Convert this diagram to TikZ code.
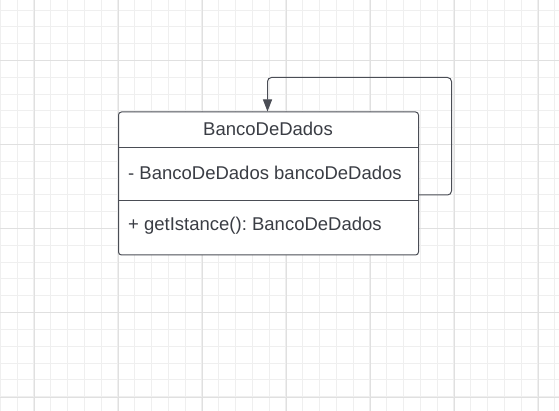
\documentclass[tikz,border=0pt]{standalone}
\usepackage{fontspec}
\setmainfont{Liberation Sans}
\usetikzlibrary{arrows.meta}
\definecolor{minorgrid}{HTML}{EFEFEF}
\definecolor{majorgrid}{HTML}{E0E0E0}
\definecolor{umlline}{HTML}{4A4D55}
\definecolor{umltext}{HTML}{3A3D44}
\frenchspacing
\tikzset{
  umlbox/.style={draw=umlline, line width=1pt, rounded corners=3pt, fill=white},
  umltxt/.style={text=umltext, font=\fontsize{18.5}{21}\selectfont, inner sep=0pt},
  sep/.style={draw=umlline, line width=1pt},
  loopline/.style={draw=umlline, line width=1pt, rounded corners=4pt, -{Triangle[length=12pt,width=9pt]}}
}
\begin{document}
\begin{tikzpicture}[x=1pt,y=-1pt]
\useasboundingbox (0,0) rectangle (559,411);
\fill[white] (0,0) rectangle (559,411);
% grid
\foreach \i in {0,...,33} {
  \pgfmathsetmacro\gx{0.2+16.8*\i}
  \draw[minorgrid, line width=1pt] (\gx,0) -- (\gx,411);
}
\foreach \i in {0,...,24} {
  \pgfmathsetmacro\gy{10.2+16.8*\i}
  \draw[minorgrid, line width=1pt] (0,\gy) -- (559,\gy);
}
\foreach \i in {0,...,6} {
  \pgfmathsetmacro\gx{34+84*\i}
  \draw[majorgrid, line width=1pt] (\gx,0) -- (\gx,411);
}
\foreach \i in {0,...,4} {
  \pgfmathsetmacro\gy{61+84*\i}
  \draw[majorgrid, line width=1pt] (0,\gy) -- (559,\gy);
}
% class box
\node[umlbox, minimum width=300pt, minimum height=143pt, anchor=north west, inner sep=0pt] (box) at (118,111.5) {};
\coordinate (s1l) at (118,147.5);
\coordinate (s1r) at (418,147.5);
\coordinate (s2l) at (118,200.5);
\coordinate (s2r) at (418,200.5);
\draw[sep] (s1l) -- (s1r);
\draw[sep] (s2l) -- (s2r);
\node[umltxt] (title) at (268,128.5) {BancoDeDados};
\node[umltxt, anchor=west] (attr) at (128,172.5) {- BancoDeDados bancoDeDados};
\node[umltxt, anchor=west] (meth) at (128,225.5) {+ getIstance(): BancoDeDados};
% self association
\coordinate (start) at (418,195);
\coordinate (c1) at (451.5,195);
\coordinate (c2) at (451.5,77.5);
\coordinate (c3) at (267.5,77.5);
\coordinate (tip) at (267.5,111.5);
\draw[loopline] (start) -- (c1) -- (c2) -- (c3) -- (tip);
\end{tikzpicture}
\end{document}
